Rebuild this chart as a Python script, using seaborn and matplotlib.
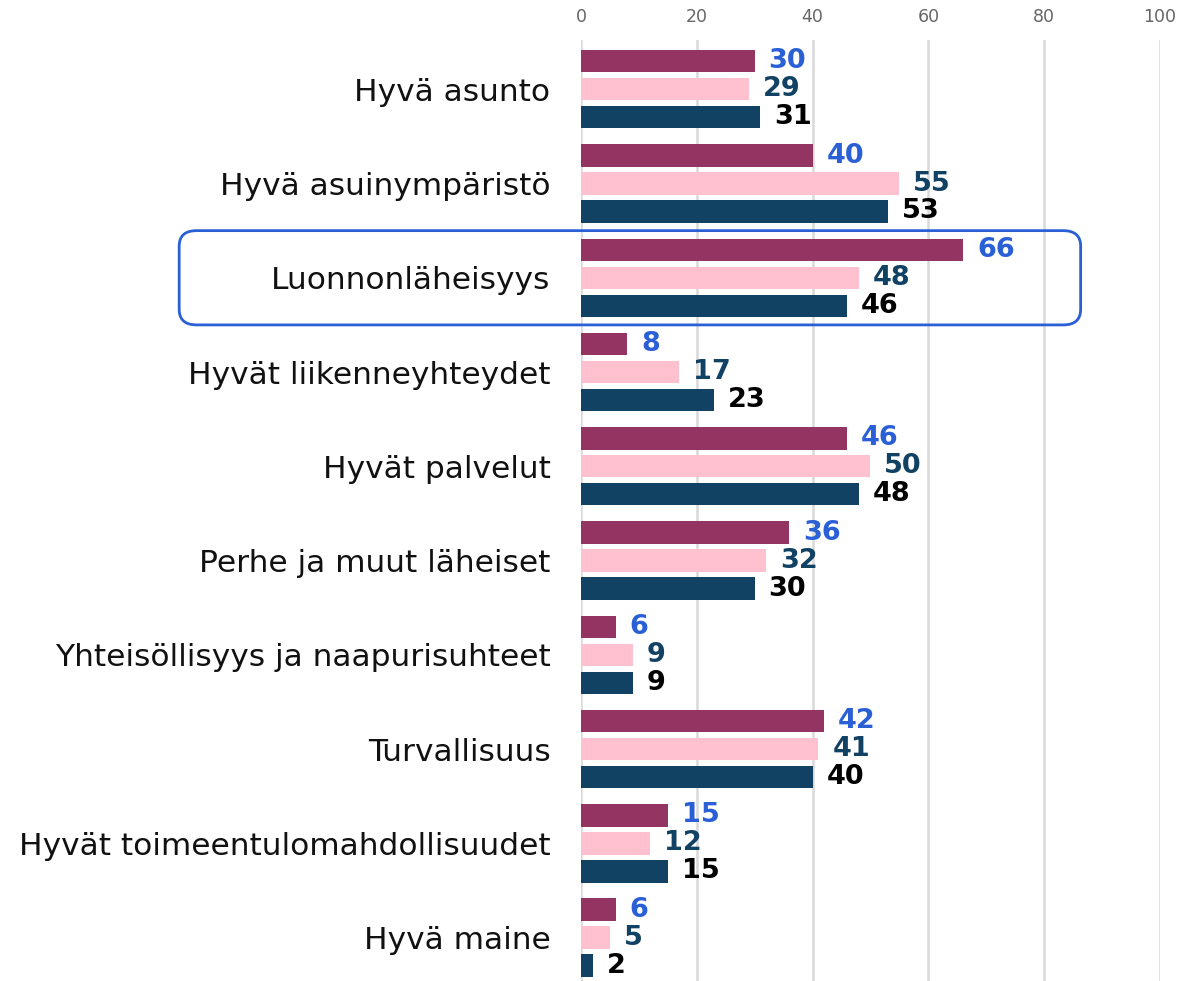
import matplotlib
matplotlib.use("Agg")
import matplotlib.pyplot as plt
from matplotlib.patches import FancyBboxPatch
import seaborn as sns
import pandas as pd

categories = ["Hyvä asunto", "Hyvä asuinympäristö", "Luonnonläheisyys",
              "Hyvät liikenneyhteydet", "Hyvät palvelut", "Perhe ja muut läheiset",
              "Yhteisöllisyys ja naapurisuhteet", "Turvallisuus",
              "Hyvät toimeentulomahdollisuudet", "Hyvä maine"]
series = ["Sarja 1", "Sarja 2", "Sarja 3"]
values_1 = [30, 40, 66, 8, 46, 36, 6, 42, 15, 6]
values_2 = [29, 55, 48, 17, 50, 32, 9, 41, 12, 5]
values_3 = [31, 53, 46, 23, 48, 30, 9, 40, 15, 2]
highlight = "Luonnonläheisyys"

bar_colors = ["#933462", "#ffc1d0", "#124263"]
label_colors = ["#2a5fd6", "#124263", "#000000"]

rows = []
for s, vals in zip(series, [values_1, values_2, values_3]):
    for c, v in zip(categories, vals):
        rows.append([c, s, v])
df = pd.DataFrame(rows, columns=["kategoria", "sarja", "arvo"])

sns.set_style("white")
plt.rcParams["font.family"] = ["DejaVu Sans"]

fig = plt.figure(figsize=(11.78, 9.81), dpi=100)
ax = fig.add_axes([0.4932, 0.0, 0.4915, 0.959])

sns.barplot(data=df, y="kategoria", x="arvo", hue="sarja", order=categories,
            hue_order=series, palette=bar_colors, orient="h", width=0.89,
            gap=0.2, saturation=1, edgecolor="none", legend=False, ax=ax)

for cont, col in zip(ax.containers, label_colors):
    ax.bar_label(cont, padding=10, color=col, fontsize=19.5, fontweight="bold")

ax.set_xlim(0, 100)
ax.set_ylim(len(categories) - 0.54, -0.52)
ax.set_xticks(range(0, 101, 20))
ax.xaxis.tick_top()
ax.tick_params(axis="x", length=0, pad=10, labelsize=12.5, labelcolor="#666666")
ax.tick_params(axis="y", length=0, pad=22, labelsize=22.5, labelcolor="#111111")
ax.set_xlabel("")
ax.set_ylabel("")
ax.grid(axis="x", color="#d9d9d9", linewidth=1.8)
ax.set_axisbelow(True)
for sp in ax.spines.values():
    sp.set_visible(False)

# rounded frame around the highlighted category
i = categories.index(highlight)
box = FancyBboxPatch((-69.4, i - 0.5), 155.7, 1.0,
                     boxstyle="round,pad=0,rounding_size=3",
                     mutation_aspect=0.055,
                     fill=False, edgecolor="#2a5fd6", linewidth=2,
                     clip_on=False, transform=ax.transData, zorder=5)
ax.add_patch(box)

fig.savefig("out.png", dpi=100)
